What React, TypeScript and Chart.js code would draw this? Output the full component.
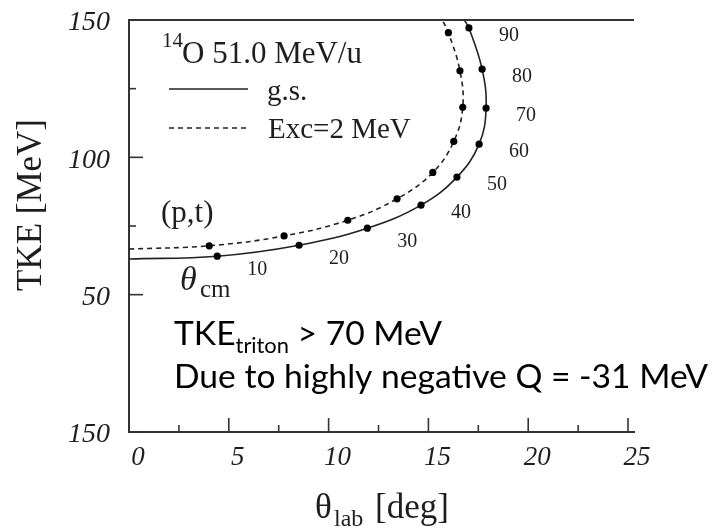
import React, { useEffect, useRef } from "react";
import { Chart, registerables } from "chart.js";

Chart.register(...registerables);

// ---- data ----
const thetaCm = [10, 20, 30, 40, 50, 60, 70, 80, 90];
const gsLab = [4.42, 8.52, 11.94, 14.63, 16.43, 17.54, 17.89, 17.69, 17.03];
const gsTke = [64.0, 68.0, 74.2, 82.6, 92.8, 104.8, 117.9, 132.1, 147.1];
const excLab = [4.02, 7.77, 10.96, 13.43, 15.22, 16.27, 16.72, 16.58, 16.0];
const excTke = [67.8, 71.4, 77.1, 84.9, 94.5, 105.8, 118.2, 131.5, 145.4];
const gsStart = { x: 0, y: 63.0 };
const gsEnd = { x: 16.8, y: 150 };
const excStart = { x: 0, y: 66.6 };
const excEnd = { x: 15.7, y: 150 };

const xTicks = [0, 5, 10, 15, 20, 25];
const xMinorTicks = [2.5, 7.5, 12.5, 17.5, 22.5];
const yTicks = [0, 50, 100, 150];
const yTickLabels = ["150", "50", "100", "150"];
const yMinorTicks = [75, 125];

const SERIF = "'Liberation Serif', 'Times New Roman', serif";
const SANS = "Lato, 'Open Sans', sans-serif";
const INK = "#1e1e1e";

function curve(start: { x: number; y: number }, xs: number[], ys: number[], end: { x: number; y: number }) {
  return [start, ...xs.map((x, i) => ({ x, y: ys[i] })), end];
}

const annotations = {
  id: "annotations",
  afterDraw(chart: any) {
    const { ctx, chartArea, scales } = chart;
    const xs = scales.x;
    const ys = scales.y;
    ctx.save();
    ctx.strokeStyle = "#333";
    ctx.lineWidth = 2;
    // top frame line
    ctx.beginPath();
    ctx.moveTo(chartArea.left, chartArea.top);
    ctx.lineTo(chartArea.right, chartArea.top);
    ctx.stroke();
    // inward ticks
    ctx.lineWidth = 1.6;
    const bottom = chartArea.bottom;
    const left = chartArea.left;
    xTicks.forEach((v) => {
      const px = xs.getPixelForValue(v);
      ctx.beginPath();
      ctx.moveTo(px, bottom);
      ctx.lineTo(px, bottom - 14);
      ctx.stroke();
    });
    xMinorTicks.forEach((v) => {
      const px = xs.getPixelForValue(v);
      ctx.beginPath();
      ctx.moveTo(px, bottom);
      ctx.lineTo(px, bottom - 7);
      ctx.stroke();
    });
    yTicks.forEach((v) => {
      const py = ys.getPixelForValue(v);
      ctx.beginPath();
      ctx.moveTo(left, py);
      ctx.lineTo(left + 14, py);
      ctx.stroke();
    });
    yMinorTicks.forEach((v) => {
      const py = ys.getPixelForValue(v);
      ctx.beginPath();
      ctx.moveTo(left, py);
      ctx.lineTo(left + 7, py);
      ctx.stroke();
    });

    ctx.fillStyle = INK;
    ctx.textAlign = "left";
    ctx.textBaseline = "alphabetic";

    // title inside the plot
    ctx.font = `21px ${SERIF}`;
    ctx.fillText("14", 162, 47);
    ctx.font = `31px ${SERIF}`;
    ctx.fillText("O 51.0 MeV/u", 182, 63);

    // legend
    ctx.strokeStyle = "#222";
    ctx.lineWidth = 1.6;
    ctx.beginPath();
    ctx.moveTo(169, 89);
    ctx.lineTo(248, 89);
    ctx.stroke();
    ctx.setLineDash([5, 4]);
    ctx.beginPath();
    ctx.moveTo(169, 128);
    ctx.lineTo(248, 128);
    ctx.stroke();
    ctx.setLineDash([]);
    ctx.font = `29px ${SERIF}`;
    ctx.fillText("g.s.", 267, 100);
    ctx.fillText("Exc=2 MeV", 268, 138);

    // reaction label
    ctx.font = `31px ${SERIF}`;
    ctx.fillText("(p,t)", 161, 222);

    // theta_cm label
    ctx.font = `italic 34px ${SERIF}`;
    ctx.fillText("\u03B8", 180, 290);
    ctx.font = `25px ${SERIF}`;
    ctx.fillText("cm", 200, 297);

    // angle labels next to the g.s. points
    const meta = chart.getDatasetMeta(0);
    ctx.font = `20px ${SERIF}`;
    ctx.textAlign = "center";
    ctx.textBaseline = "middle";
    thetaCm.forEach((a, i) => {
      const el = meta.data[i + 1];
      if (!el) return;
      ctx.fillText(String(a), el.x + 40, el.y + (i < 3 ? 14 : 8));
    });

    // TKE note
    ctx.textAlign = "left";
    ctx.textBaseline = "alphabetic";
    const line2 = "Due to highly negative Q = -31 MeV";
    ctx.font = `30px ${SANS}`;
    const w = ctx.measureText(line2).width;
    const size = (30 * 534) / w;
    ctx.fillStyle = "#000";
    ctx.font = `${size}px ${SANS}`;
    ctx.fillText("TKE", 174, 345);
    let x = 174 + ctx.measureText("TKE").width;
    ctx.font = `${size * 0.65}px ${SANS}`;
    ctx.fillText("triton", x, 353);
    x += ctx.measureText("triton").width;
    ctx.font = `${size}px ${SANS}`;
    ctx.fillText(" > 70 MeV", x, 345);
    ctx.fillText(line2, 174, 388);

    // axis titles
    ctx.fillStyle = INK;
    ctx.font = `35px ${SERIF}`;
    ctx.fillText("\u03B8", 315, 518);
    ctx.font = `24px ${SERIF}`;
    ctx.fillText("lab", 334, 526);
    ctx.font = `35px ${SERIF}`;
    ctx.fillText("[deg]", 375, 518);

    ctx.save();
    ctx.translate(41, 205);
    ctx.rotate(-Math.PI / 2);
    ctx.textAlign = "center";
    ctx.font = `35px ${SERIF}`;
    ctx.fillText("TKE [MeV]", 0, 0);
    ctx.restore();

    ctx.restore();
  },
};

export default function App() {
  const ref = useRef<HTMLCanvasElement | null>(null);

  useEffect(() => {
    document.body.style.margin = "0";
    const canvas = ref.current;
    if (!canvas) return;
    const gsData = curve(gsStart, gsLab, gsTke, gsEnd);
    const excData = curve(excStart, excLab, excTke, excEnd);
    const radius = (n: number) => (ctx: any) =>
      ctx.dataIndex === 0 || ctx.dataIndex === n - 1 ? 0 : 3.6;

    const chart = new Chart(canvas, {
      type: "scatter",
      data: {
        datasets: [
          {
            label: "g.s.",
            data: gsData,
            showLine: true,
            borderColor: "#222",
            borderWidth: 1.6,
            tension: 0.4,
            pointRadius: radius(gsData.length),
            pointBackgroundColor: "#000",
            pointBorderWidth: 0,
          },
          {
            label: "Exc=2 MeV",
            data: excData,
            showLine: true,
            borderColor: "#222",
            borderWidth: 1.6,
            borderDash: [5, 4],
            tension: 0.4,
            pointRadius: radius(excData.length),
            pointBackgroundColor: "#000",
            pointBorderWidth: 0,
          },
        ],
      },
      options: {
        responsive: false,
        animation: false,
        layout: { padding: { top: 20, right: 82, left: 0, bottom: 0 } },
        plugins: {
          legend: { display: false },
          tooltip: { enabled: false },
        },
        scales: {
          x: {
            type: "linear",
            min: 0,
            max: 25.3,
            afterBuildTicks: (s: any) => {
              s.ticks = xTicks.map((v) => ({ value: v }));
            },
            afterFit: (s: any) => {
              s.height = 100;
              s.paddingLeft = 0;
              s.paddingRight = 0;
            },
            grid: { display: false, drawTicks: false },
            border: { display: true, color: "#333", width: 2 },
            ticks: {
              autoSkip: false,
              maxRotation: 0,
              padding: 10,
              labelOffset: 9,
              color: INK,
              font: { family: SERIF, style: "italic", size: 27 },
              callback: (v: any) => String(v),
            },
          },
          y: {
            type: "linear",
            min: 0,
            max: 150,
            afterBuildTicks: (s: any) => {
              s.ticks = yTicks.map((v) => ({ value: v }));
            },
            afterFit: (s: any) => {
              s.width = 129;
              s.paddingTop = 0;
              s.paddingBottom = 0;
            },
            grid: { display: false, drawTicks: false },
            border: { display: true, color: "#333", width: 2 },
            ticks: {
              autoSkip: false,
              padding: 19,
              labelOffset: 3,
              color: INK,
              font: { family: SERIF, style: "italic", size: 28 },
              callback: (v: any) => {
                const i = yTicks.indexOf(Number(v));
                return i >= 0 ? yTickLabels[i] : "";
              },
            },
          },
        },
      },
      plugins: [annotations],
    });
    return () => chart.destroy();
  }, []);

  return (
    <div style={{ position: "absolute", left: 0, top: 0, width: 716, height: 532, background: "#fff" }}>
      <canvas ref={ref} width={716} height={532} style={{ display: "block" }} />
    </div>
  );
}
